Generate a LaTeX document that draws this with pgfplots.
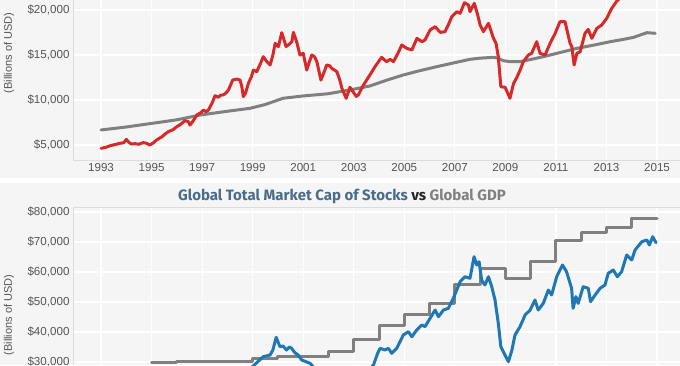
\documentclass[border=0pt]{standalone}
\usepackage{pgfplots}
\pgfplotsset{compat=1.18}
\usepackage{fontspec}
\setmainfont{Liberation Sans}
\newfontfamily\titlefont{Fira Sans}
\definecolor{panel}{HTML}{F5F5F5}
\definecolor{redl}{HTML}{D62A2A}
\definecolor{grayl}{HTML}{808080}
\definecolor{bluel}{HTML}{1F77B4}
\definecolor{titleblue}{HTML}{4A6C8C}
\definecolor{ticktext}{HTML}{555555}
\definecolor{axisgray}{HTML}{DCDCDC}
\pgfplotsset{
  mystyle/.style={
    scale only axis, width=607pt,
    xmin=1991.89, xmax=2015.91,
    axis line style={draw=none}, tick style={draw=none},
    grid=major, major grid style={white, line width=1.2pt},
    xtick={1993,1995,...,2015},
    scaled y ticks=false, scaled x ticks=false,
    ticklabel style={font=\fontsize{11.6}{13}\selectfont, text=ticktext},
    clip=true,
  },
  dline/.style={line width=3pt, line join=round, line cap=round},
}
\begin{document}
\begin{tikzpicture}
\useasboundingbox (0pt,0pt) rectangle (680pt,365pt);
\fill[white] (0pt,0pt) rectangle (680pt,365pt);
\fill[panel] (0pt,187pt) rectangle (680pt,365pt);
\fill[panel] (0pt,0pt) rectangle (680pt,182pt);
\draw[axisgray] (73pt,157.5pt) -- (680pt,157.5pt);

\begin{axis}[mystyle, at={(73pt,205pt)}, anchor=south west, height=160pt,
  ymin=3333, ymax=21111,
  ytick={5000,10000,15000,20000},
  yticklabels={{\$5,000},{\$10,000},{\$15,000},{\$20,000}},
  xticklabels={1993,1995,1997,1999,2001,2003,2005,2007,2009,2011,2013,2015},
]
\addplot[dline, grayl] coordinates {
(1993.0,6670) (1994.0,7000) (1995.0,7400) (1996.0,7800) (1996.92,8330) (1998.0,8750)
(1998.9,9080) (1999.5,9500) (2000.2,10190) (2001.0,10450) (2002.0,10700) (2002.46,10930)
(2003.0,11200) (2003.64,11560) (2004.3,12200) (2004.96,12780) (2005.6,13250) (2006.28,13700)
(2007.0,14150) (2007.6,14520) (2008.0,14650) (2008.53,14740) (2008.7,14650) (2008.9,14380)
(2009.18,14260) (2009.58,14260) (2010.0,14500) (2010.5,14810) (2011.2,15300) (2011.83,15740)
(2012.5,16100) (2013.15,16480) (2013.6,16700) (2014.07,16960) (2014.6,17480) (2014.93,17410)
};
\addplot[dline, redl] coordinates {
(1993.0,4630) (1993.2,4750) (1993.36,4920) (1993.55,5050) (1993.75,5190) (1993.9,5250)
(1994.0,5630) (1994.1,5300) (1994.2,5110) (1994.35,5150) (1994.48,5080) (1994.67,5260)
(1994.8,5200) (1994.92,5000) (1995.05,5200) (1995.2,5560) (1995.4,5900) (1995.55,6250)
(1995.66,6480) (1995.85,6700) (1996.0,7040) (1996.15,7300) (1996.32,7700) (1996.45,7600)
(1996.52,7220) (1996.65,7700) (1996.79,8330) (1996.95,8600) (1997.05,8890) (1997.15,8700)
(1997.25,8890) (1997.4,9700) (1997.51,10480) (1997.64,10300) (1997.74,10550) (1997.84,10560)
(1997.95,10800) (1998.04,11110) (1998.21,12220) (1998.37,12330) (1998.5,12220) (1998.57,11500)
(1998.63,10370) (1998.72,10800) (1998.83,11850) (1998.95,12600) (1999.03,13330) (1999.16,13150)
(1999.3,14000) (1999.42,14810) (1999.55,14300) (1999.69,13890) (1999.8,15000) (1999.89,16300)
(2000.02,15930) (2000.15,17480) (2000.25,16600) (2000.32,15930) (2000.45,16200) (2000.55,16480)
(2000.61,17520) (2000.74,16480) (2000.87,15000) (2001.0,15190) (2001.14,13330) (2001.25,14300)
(2001.34,15000) (2001.45,14800) (2001.54,14260) (2001.7,12220) (2001.8,12900) (2001.93,13890)
(2002.05,13800) (2002.13,13520) (2002.33,13150) (2002.45,12200) (2002.53,11300) (2002.7,10190)
(2002.85,11410) (2003.0,10800) (2003.1,10400) (2003.18,10560) (2003.35,11500) (2003.51,12220)
(2003.64,12780) (2003.84,13700) (2004.1,14740) (2004.3,14260) (2004.44,14520) (2004.57,14260)
(2004.75,15200) (2004.9,16110) (2005.1,15740) (2005.3,15560) (2005.5,16850) (2005.7,16480)
(2005.82,16670) (2006.02,17780) (2006.22,18150) (2006.42,17520) (2006.61,17590) (2006.75,18400)
(2006.88,19260) (2007.08,19810) (2007.21,19630) (2007.38,20810) (2007.54,20560) (2007.6,19810)
(2007.77,20740) (2007.9,19500) (2008.0,18330) (2008.13,17590) (2008.33,18520) (2008.53,16850)
(2008.63,16300) (2008.72,14810) (2008.82,11480) (2008.99,11410) (2009.18,10190) (2009.32,11800)
(2009.45,12500) (2009.58,13300) (2009.71,14260) (2009.91,15000) (2010.04,15190) (2010.24,16480)
(2010.37,15190) (2010.57,15000) (2010.77,16300) (2010.97,17410) (2011.16,18700) (2011.36,18700)
(2011.56,16300) (2011.63,15930) (2011.72,13890) (2011.83,15190) (2011.96,15370) (2012.15,17410)
(2012.28,17850) (2012.42,16850) (2012.62,17960) (2012.81,18330) (2013.01,19070) (2013.21,20190)
(2013.41,21000) (2013.6,21500) (2013.9,22200) (2014.2,23000) (2014.5,23700) (2014.9,24300)
};
\end{axis}
\draw[axisgray] (73pt,205pt) -- (680pt,205pt);
\draw[axisgray] (73pt,205pt) -- (73pt,365pt);

\begin{axis}[mystyle, at={(73pt,0pt)}, anchor=south west, height=157pt,
  ymin=29000, ymax=81333,
  ytick={30000,40000,50000,60000,70000,80000},
  yticklabels={{\$30,000},{\$40,000},{\$50,000},{\$60,000},{\$70,000},{\$80,000}},
  xticklabels={},
]
\addplot[dline, grayl, const plot] coordinates {
(1995.0,29700) (1996.0,30200) (1999.0,31300) (2000.0,32000) (2002.0,33400) (2003.0,37500)
(2004.0,42300) (2005.0,45700) (2006.0,49600) (2007.0,56000) (2008.0,61200) (2009.0,57900)
(2010.0,63400) (2011.0,70400) (2012.0,73100) (2013.0,74900) (2014.0,77900) (2015.0,77900)
};
\addplot[dline, bluel] coordinates {
(1995.0,17500) (1996.0,20000) (1997.0,22500) (1998.0,25500) (1998.7,26500) (1999.0,28500)
(1999.16,29780) (1999.42,31770) (1999.69,32330) (1999.8,34000) (1999.93,38230) (2000.08,35100)
(2000.2,35330) (2000.34,34000) (2000.45,35000) (2000.54,34560) (2000.67,33100) (2000.8,32330)
(2000.94,30670) (2001.27,29560) (2001.5,27500) (2001.75,26500) (2002.0,26800) (2002.5,23500)
(2002.75,21500) (2003.2,22500) (2003.5,26500) (2003.78,29000) (2003.95,33000) (2004.04,34560)
(2004.24,34000) (2004.37,34560) (2004.5,32900) (2004.7,34560) (2004.96,39000) (2005.16,40100)
(2005.3,38430) (2005.49,40670) (2005.69,42330) (2005.82,41770) (2006.02,44570) (2006.22,47330)
(2006.35,45100) (2006.55,47330) (2006.74,47900) (2006.94,51230) (2007.21,56770) (2007.4,58430)
(2007.6,57900) (2007.76,65100) (2007.87,62330) (2007.96,63430) (2008.06,57330) (2008.19,55670)
(2008.33,58430) (2008.46,55100) (2008.59,50670) (2008.72,42900) (2008.82,35100) (2008.95,32900)
(2009.12,30100) (2009.26,34000) (2009.38,39000) (2009.58,41770) (2009.78,45670) (2009.98,47330)
(2010.17,50670) (2010.3,47330) (2010.5,49560) (2010.7,54000) (2010.83,52330) (2011.03,58430)
(2011.26,62330) (2011.42,60100) (2011.62,54570) (2011.68,47900) (2011.79,51770) (2011.88,49560)
(2012.08,55100) (2012.28,54570) (2012.37,50100) (2012.55,52330) (2012.75,54570) (2012.94,55670)
(2013.07,59570) (2013.27,60670) (2013.43,58430) (2013.6,60100) (2013.8,65670) (2014.0,64000)
(2014.13,67330) (2014.4,70100) (2014.6,70670) (2014.7,69000) (2014.83,71770) (2014.96,69770)
};
\end{axis}
\draw[axisgray] (73pt,0pt) -- (73pt,157.5pt);

\node[rotate=90, font=\fontsize{11}{13}\selectfont, text=ticktext] at (9pt,312pt) {(Billions of USD)};
\node[rotate=90, font=\fontsize{11}{13}\selectfont, text=ticktext] at (9pt,50pt) {(Billions of USD)};
\node[anchor=base, font=\titlefont\bfseries\fontsize{15}{18}\selectfont] at (342pt,164.3pt)
  {\textcolor{titleblue}{Global Total Market Cap of Stocks} \textcolor{black!85}{vs} \textcolor{grayl}{Global GDP}};
\end{tikzpicture}
\end{document}
